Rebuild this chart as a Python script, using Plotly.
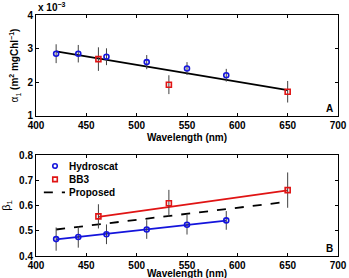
import plotly.graph_objects as go

# Panel A data (alpha_1, x 1e-3)
hs_wl = [420, 442, 470, 510, 550, 589]
hs_alpha = [2.85, 2.85, 2.76, 2.60, 2.41, 2.21]
hs_alpha_err = [0.28, 0.26, 0.25, 0.21, 0.19, 0.19]
bb_wl = [462, 532, 650]
bb_alpha = [2.69, 1.93, 1.72]
bb_alpha_err = [0.35, 0.28, 0.32]
fitA_wl = [420, 650]
fitA_alpha = [2.92, 1.77]

# Panel B data (beta_1)
hs_beta = [0.467, 0.475, 0.486, 0.505, 0.524, 0.541]
hs_beta_err = [0.046, 0.042, 0.039, 0.037, 0.039, 0.037]
bb_beta = [0.557, 0.609, 0.661]
bb_beta_err = [0.048, 0.053, 0.070]
hs_fit_wl = [420, 589]
hs_fit_beta = [0.466, 0.540]
bb_fit_wl = [462, 650]
bb_fit_beta = [0.555, 0.660]
prop_wl = [420, 650]
prop_beta = [0.505, 0.615]

xticks = [400, 450, 500, 550, 600, 650, 700]
legend_names = ["Hydroscat", "BB3", "Proposed"]
FONT = "Liberation Sans, Arial, sans-serif"
BLUE = "#1414dc"
RED = "#e01414"
ERRC = "#404040"

fig = go.Figure()

def err(arr):
    return dict(type="data", array=arr, color=ERRC, thickness=1, width=0)

MK = dict(size=5, line=dict(width=1.6))

# Panel A
fig.add_trace(go.Scatter(x=fitA_wl, y=fitA_alpha, mode="lines", line=dict(color="black", width=1.8),
                         showlegend=False, xaxis="x", yaxis="y"))
fig.add_trace(go.Scatter(x=hs_wl, y=hs_alpha, mode="markers", error_y=err(hs_alpha_err),
                         marker=dict(symbol="circle-open", color=BLUE, **MK),
                         showlegend=False, xaxis="x", yaxis="y"))
fig.add_trace(go.Scatter(x=bb_wl, y=bb_alpha, mode="markers", error_y=err(bb_alpha_err),
                         marker=dict(symbol="square-open", color=RED, **MK),
                         showlegend=False, xaxis="x", yaxis="y"))

# Panel B
fig.add_trace(go.Scatter(x=hs_fit_wl, y=hs_fit_beta, mode="lines", line=dict(color=BLUE, width=1.8),
                         showlegend=False, xaxis="x2", yaxis="y2"))
fig.add_trace(go.Scatter(x=bb_fit_wl, y=bb_fit_beta, mode="lines", line=dict(color=RED, width=1.8),
                         showlegend=False, xaxis="x2", yaxis="y2"))
fig.add_trace(go.Scatter(x=prop_wl, y=prop_beta, mode="lines", name=legend_names[2],
                         line=dict(color="black", width=1.8, dash="dash"), showlegend=False,
                         xaxis="x2", yaxis="y2"))
fig.add_trace(go.Scatter(x=hs_wl, y=hs_beta, mode="markers", error_y=err(hs_beta_err), name=legend_names[0],
                         marker=dict(symbol="circle-open", color=BLUE, **MK), showlegend=False,
                         xaxis="x2", yaxis="y2"))
fig.add_trace(go.Scatter(x=bb_wl, y=bb_beta, mode="markers", error_y=err(bb_beta_err), name=legend_names[1],
                         marker=dict(symbol="square-open", color=RED, **MK), showlegend=False,
                         xaxis="x2", yaxis="y2"))

tickfont = dict(family=FONT, size=10, color="black", weight="bold")
ax_common = dict(showline=True, linecolor="black", linewidth=1, mirror="ticks", ticks="inside",
                 ticklen=3, tickcolor="black", showgrid=False, zeroline=False, tickfont=tickfont,
                 automargin=False)

# Compact legend drawn as layout decorations (panel B, top-left)
shapes = [
    dict(type="circle", xref="x2 domain", yref="y2 domain", x0=0.063 - 0.0075, x1=0.063 + 0.0075,
         y0=0.891 - 0.022, y1=0.891 + 0.022, line=dict(color=BLUE, width=1.6)),
    dict(type="rect", xref="x2 domain", yref="y2 domain", x0=0.063 - 0.0075, x1=0.063 + 0.0075,
         y0=0.759 - 0.022, y1=0.759 + 0.022, line=dict(color=RED, width=1.6)),
    dict(type="line", xref="x2 domain", yref="y2 domain", x0=0.026, x1=0.096, y0=0.631, y1=0.631,
         line=dict(color="black", width=1.8, dash="dash")),
]
leg_y = [0.891, 0.759, 0.631]
leg_ann = [dict(text="<b>%s</b>" % n, xref="x2 domain", yref="y2 domain", x=0.103, y=yy,
                xanchor="left", yanchor="middle", showarrow=False, font=dict(size=10))
           for n, yy in zip(legend_names, leg_y)]

fig.update_layout(
    width=349, height=278,
    margin=dict(l=36, r=11, t=15, b=22),
    plot_bgcolor="white", paper_bgcolor="white",
    font=dict(family=FONT, size=10, color="black"),
    showlegend=False,
    xaxis=dict(domain=[0, 1], range=[400, 700], tickvals=xticks, anchor="y",
               title=dict(text="<b>Wavelength (nm)</b>", standoff=4, font=dict(size=10)), **ax_common),
    yaxis=dict(domain=[0.581, 1], range=[1, 4], tickvals=[1, 2, 3, 4], anchor="x",
               title=dict(text="α<sub>1</sub> <b>(m<sup>2</sup> mgChl<sup>−1</sup>)</b>", standoff=6,
                          font=dict(size=10)), **ax_common),
    xaxis2=dict(domain=[0, 1], range=[400, 700], tickvals=xticks, anchor="y2", **ax_common),
    yaxis2=dict(domain=[0, 0.419], range=[0.4, 0.8], tickvals=[0.4, 0.5, 0.6, 0.7, 0.8],
                tickformat=".1f", anchor="x2",
                title=dict(text="β<sub>1</sub>", standoff=10, font=dict(size=11)), **ax_common),
    shapes=shapes,
    annotations=[
        dict(text="<b>x 10<sup>−3</sup></b>", xref="paper", yref="paper", x=0.0, y=1.0,
             xanchor="left", yanchor="bottom", showarrow=False, font=dict(size=10)),
        dict(text="<b>A</b>", xref="x", yref="y", x=697, y=1.0, xanchor="right", yanchor="bottom",
             showarrow=False, font=dict(size=10)),
        dict(text="<b>B</b>", xref="x2", yref="y2", x=697, y=0.4, xanchor="right", yanchor="bottom",
             showarrow=False, font=dict(size=10)),
        dict(text="<b>Wavelength (nm)</b>", xref="paper", yref="paper", x=0.5, y=-0.072,
             xanchor="center", yanchor="middle", showarrow=False, font=dict(size=10)),
    ] + leg_ann,
)

fig.write_html("out.html")
